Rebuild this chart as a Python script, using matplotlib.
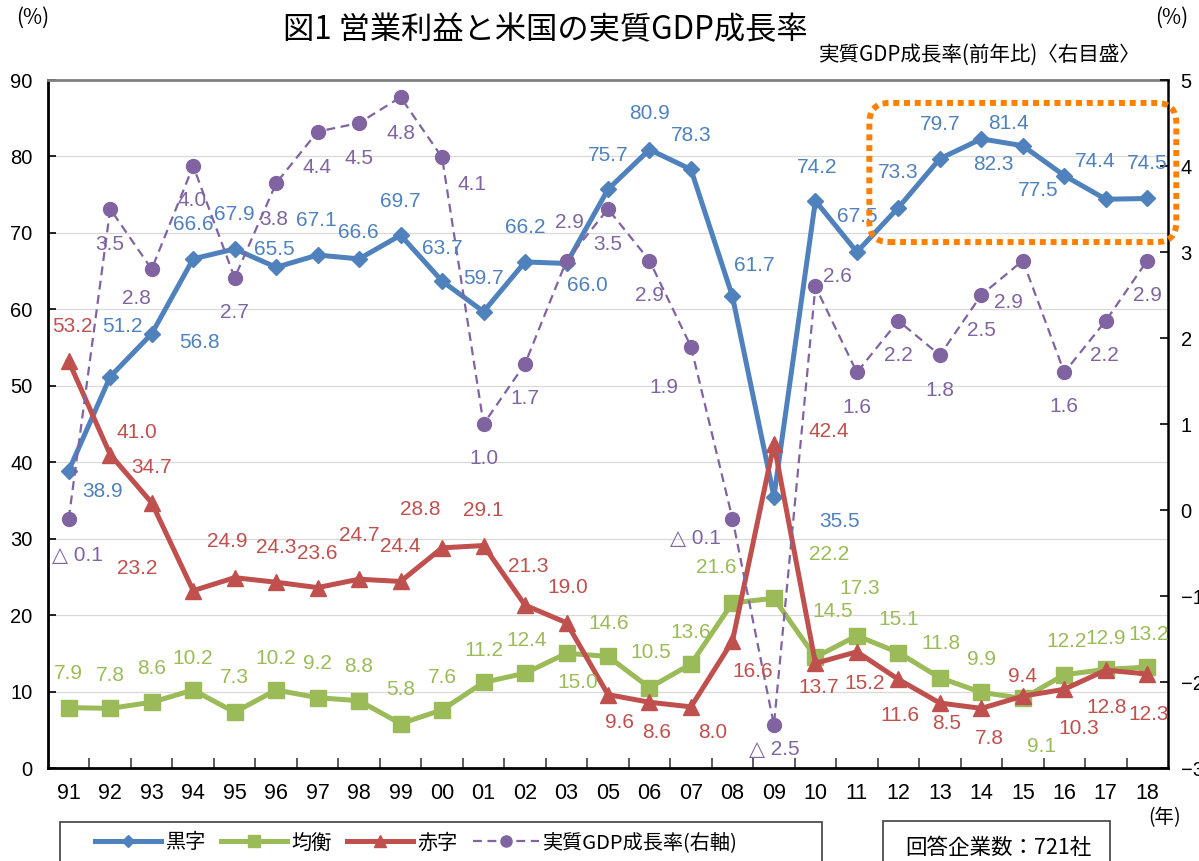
from __future__ import annotations

import matplotlib
matplotlib.use("Agg")
import matplotlib.pyplot as plt
from matplotlib.patches import FancyBboxPatch, Rectangle
from matplotlib.transforms import IdentityTransform


YEARS = ["91", "92", "93", "94", "95", "96", "97", "98", "99", "00", "01", "02", "03",
         "05", "06", "07", "08", "09", "10", "11", "12", "13", "14", "15", "16", "17", "18"]

# 黒字 / 均衡 / 赤字 (left axis, %)
KUROJI = [38.9, 51.2, 56.8, 66.6, 67.9, 65.5, 67.1, 66.6, 69.7, 63.7, 59.7, 66.2, 66.0,
          75.7, 80.9, 78.3, 61.7, 35.5, 74.2, 67.5, 73.3, 79.7, 82.3, 81.4, 77.5, 74.4, 74.5]
KINKOU = [7.9, 7.8, 8.6, 10.2, 7.3, 10.2, 9.2, 8.8, 5.8, 7.6, 11.2, 12.4, 15.0,
          14.6, 10.5, 13.6, 21.6, 22.2, 14.5, 17.3, 15.1, 11.8, 9.9, 9.1, 12.2, 12.9, 13.2]
AKAJI = [53.2, 41.0, 34.7, 23.2, 24.9, 24.3, 23.6, 24.7, 24.4, 28.8, 29.1, 21.3, 19.0,
         9.6, 8.6, 8.0, 16.6, 42.4, 13.7, 15.2, 11.6, 8.5, 7.8, 9.4, 10.3, 12.8, 12.3]
# 実質GDP成長率 (right axis, %)
GDP = [-0.1, 3.5, 2.8, 4.0, 2.7, 3.8, 4.4, 4.5, 4.8, 4.1, 1.0, 1.7, 2.9,
       3.5, 2.9, 1.9, -0.1, -2.5, 2.6, 1.6, 2.2, 1.8, 2.5, 2.9, 1.6, 2.2, 2.9]

# label offsets in output pixels (dx right, dy down), placed by hand like the source
OFF_KUROJI = [(34, 21), (12, -50), (48, 9), (0, -34), (0, -34), (-2, -18), (-1, -35), (-1, -26),
              (0, -34), (0, -33), (0, -33), (0, -34), (21, 22), (0, -34), (0, -36), (0, -34),
              (22, -31), (66, 25), (2, -33), (0, -35), (0, -35), (0, -34), (12, 26), (-14, -22),
              (-26, 15), (-11, -38), (0, -35)]
OFF_KINKOU = [(0, -34), (0, -33), (0, -34), (0, -32), (0, -35), (0, -32), (0, -34), (0, -34),
              (0, -34), (0, -32), (0, -32), (2, -33), (11, 29), (1, -33), (1, -35), (0, -32),
              (-16, -35), (55, -44), (17, -46), (3, -47), (0, -33), (1, -34), (0, -33), (19, 48),
              (2, -33), (0, -31), (1, -33)]
OFF_AKAJI = [(4, -35), (27, -22), (0, -35), (-56, -22), (-7, -36), (0, -35), (0, -34), (0, -44),
             (0, -35), (-22, -38), (0, -35), (3, -39), (1, -35), (12, 28), (7, 30), (22, 26),
             (20, 30), (55, -12), (3, 24), (8, 32), (2, 36), (7, 20), (8, 30), (0, -20),
             (14, 39), (1, 37), (1, 41)]
OFF_GDP = [(9, 37), (0, 36), (-15, 29), (-1, 35), (0, 35), (-2, 36), (-1, 36), (0, 35), (0, 36),
           (30, 27), (0, 35), (0, 35), (3, -38), (0, 36), (0, 35), (-27, 41), (-37, 20), (0, 24),
           (22, -10), (0, 35), (0, 35), (0, 35), (0, 35), (-14, 42), (0, 34), (-1, 35), (0, 35)]

W, H = 1199, 861
C_BLUE = "#4f81bd"
C_GREEN = "#9bbb59"
C_RED = "#c0504d"
C_PURPLE = "#8064a2"
C_ORANGE = "#ff8000"
JP = ["Noto Sans CJK JP", "DejaVu Sans"]
NUM = ["Liberation Sans", "DejaVu Sans"]


def _fx(px: float) -> float:
    return px / W


def _fy(py: float) -> float:
    return 1.0 - py / H


def _fmt(v: float) -> str:
    return f"{v:.1f}" if v >= 0 else f"△ {abs(v):.1f}"


def main() -> None:
    plt.rcParams["font.family"] = JP

    fig = plt.figure(figsize=(W / 100, H / 100), dpi=100)
    ax = fig.add_axes([_fx(48), _fy(768), (1168 - 48) / W, (768 - 80) / H])
    ax2 = ax.twinx()

    xs = list(range(len(YEARS)))

    h_k, = ax.plot(xs, KUROJI, color=C_BLUE, lw=3.6, marker="D", ms=8,
                   mec=C_BLUE, mfc=C_BLUE, zorder=3)
    h_b, = ax.plot(xs, KINKOU, color=C_GREEN, lw=3.6, marker="s", ms=11,
                   mec=C_GREEN, mfc=C_GREEN, zorder=4)
    h_a, = ax.plot(xs, AKAJI, color=C_RED, lw=3.6, marker="^", ms=11,
                   mec=C_RED, mfc=C_RED, zorder=5)
    h_g, = ax2.plot(xs, GDP, color=C_PURPLE, lw=1.6, dashes=(4, 2.5), marker="o", ms=10,
                    mec=C_PURPLE, mfc=C_PURPLE, zorder=3)

    # axes
    ax.set_xlim(-0.5, len(YEARS) - 0.5)
    ax.set_ylim(0, 90)
    ax2.set_ylim(-3, 5)
    ax.set_yticks(range(0, 91, 10))
    ax2.set_yticks(range(-3, 6))
    ax.yaxis.grid(True, color="#d9d9d9", lw=0.9)
    ax.set_axisbelow(True)

    ax.set_xticks(xs)
    ax.set_xticklabels(YEARS, fontfamily=NUM, fontsize=15.5)
    ax.set_xticks([i + 0.5 for i in xs[:-1]], minor=True)
    ax.tick_params(axis="x", which="major", length=0, pad=11)
    ax.tick_params(axis="x", which="minor", direction="in", length=7, width=1.2, color="#404040")
    ax.tick_params(axis="y", direction="in", length=6, width=1.2, pad=11)
    ax2.tick_params(axis="y", direction="in", length=6, width=1.2, pad=9)
    for lab in ax.get_yticklabels() + ax2.get_yticklabels():
        lab.set_fontfamily(NUM)
        lab.set_fontsize(14.5)

    for s in ("left", "bottom"):
        ax.spines[s].set_color("black")
        ax.spines[s].set_linewidth(2.0)
    ax.spines["top"].set_color("#808080")
    ax.spines["top"].set_linewidth(2.0)
    ax.spines["right"].set_visible(False)
    for s in ("left", "top", "bottom"):
        ax2.spines[s].set_visible(False)
    ax2.spines["right"].set_color("black")
    ax2.spines["right"].set_linewidth(1.8)

    # data labels (all on top)
    series = [
        (KUROJI, OFF_KUROJI, C_BLUE, ax),
        (KINKOU, OFF_KINKOU, C_GREEN, ax),
        (AKAJI, OFF_AKAJI, C_RED, ax),
        (GDP, OFF_GDP, C_PURPLE, ax2),
    ]
    for vals, offs, col, src in series:
        for i, (v, (dx, dy)) in enumerate(zip(vals, offs)):
            ax2.annotate(_fmt(v), xy=(i, v), xycoords=src.transData,
                         xytext=(dx, -dy), textcoords="offset pixels",
                         ha="center", va="center", color=col,
                         fontsize=15, fontfamily=NUM, zorder=10, annotation_clip=False)

    # highlight box around 12-18 of 黒字
    fig.canvas.draw()
    x0, y0 = ax.transData.transform((19.3, 68.8))
    x1, y1 = ax.transData.transform((26.7, 87.0))
    box = FancyBboxPatch((x0, y0), x1 - x0, y1 - y0,
                         boxstyle="round,pad=0,rounding_size=20",
                         transform=IdentityTransform(), fill=False,
                         edgecolor=C_ORANGE, lw=4.3, ls=(0, (1, 0.8)), zorder=20)
    fig.add_artist(box)

    # titles and units
    fig.text(_fx(545), _fy(30), "図1 営業利益と米国の実質GDP成長率",
             ha="center", va="center", fontsize=22.5)
    fig.text(_fx(980), _fy(55), "実質GDP成長率(前年比)〈右目盛〉",
             ha="center", va="center", fontsize=14.8)
    fig.text(_fx(33), _fy(18), "(%)", ha="center", va="center", fontsize=15)
    fig.text(_fx(1172), _fy(18), "(%)", ha="center", va="center", fontsize=15)
    fig.text(_fx(1165), _fy(818), "(年)", ha="center", va="center", fontsize=14)

    # legend with a hand drawn frame (bottom is cut off in the source)
    fig.add_artist(Rectangle((_fx(60), _fy(875)), (822 - 60) / W, (875 - 822) / H,
                             transform=fig.transFigure, fill=False,
                             edgecolor="#404040", lw=1.2))
    fig.legend([h_k, h_b, h_a, h_g], ["黒字", "均衡", "赤字", "実質GDP成長率(右軸)"],
               loc="center left", bbox_to_anchor=(_fx(95), _fy(843)), ncol=4,
               frameon=False, borderaxespad=0, borderpad=0, fontsize=14.5,
               handlelength=3.3, handletextpad=0.2, columnspacing=0.75, markerscale=0.8)

    fig.add_artist(Rectangle((_fx(883), _fy(875)), (1110 - 883) / W, (875 - 821) / H,
                             transform=fig.transFigure, fill=False,
                             edgecolor="#404040", lw=1.2))
    fig.text(_fx(998), _fy(848), "回答企業数：721社", ha="center", va="center", fontsize=15.5)

    fig.savefig("out.png", dpi=100)
    plt.close(fig)


if __name__ == "__main__":
    main()
